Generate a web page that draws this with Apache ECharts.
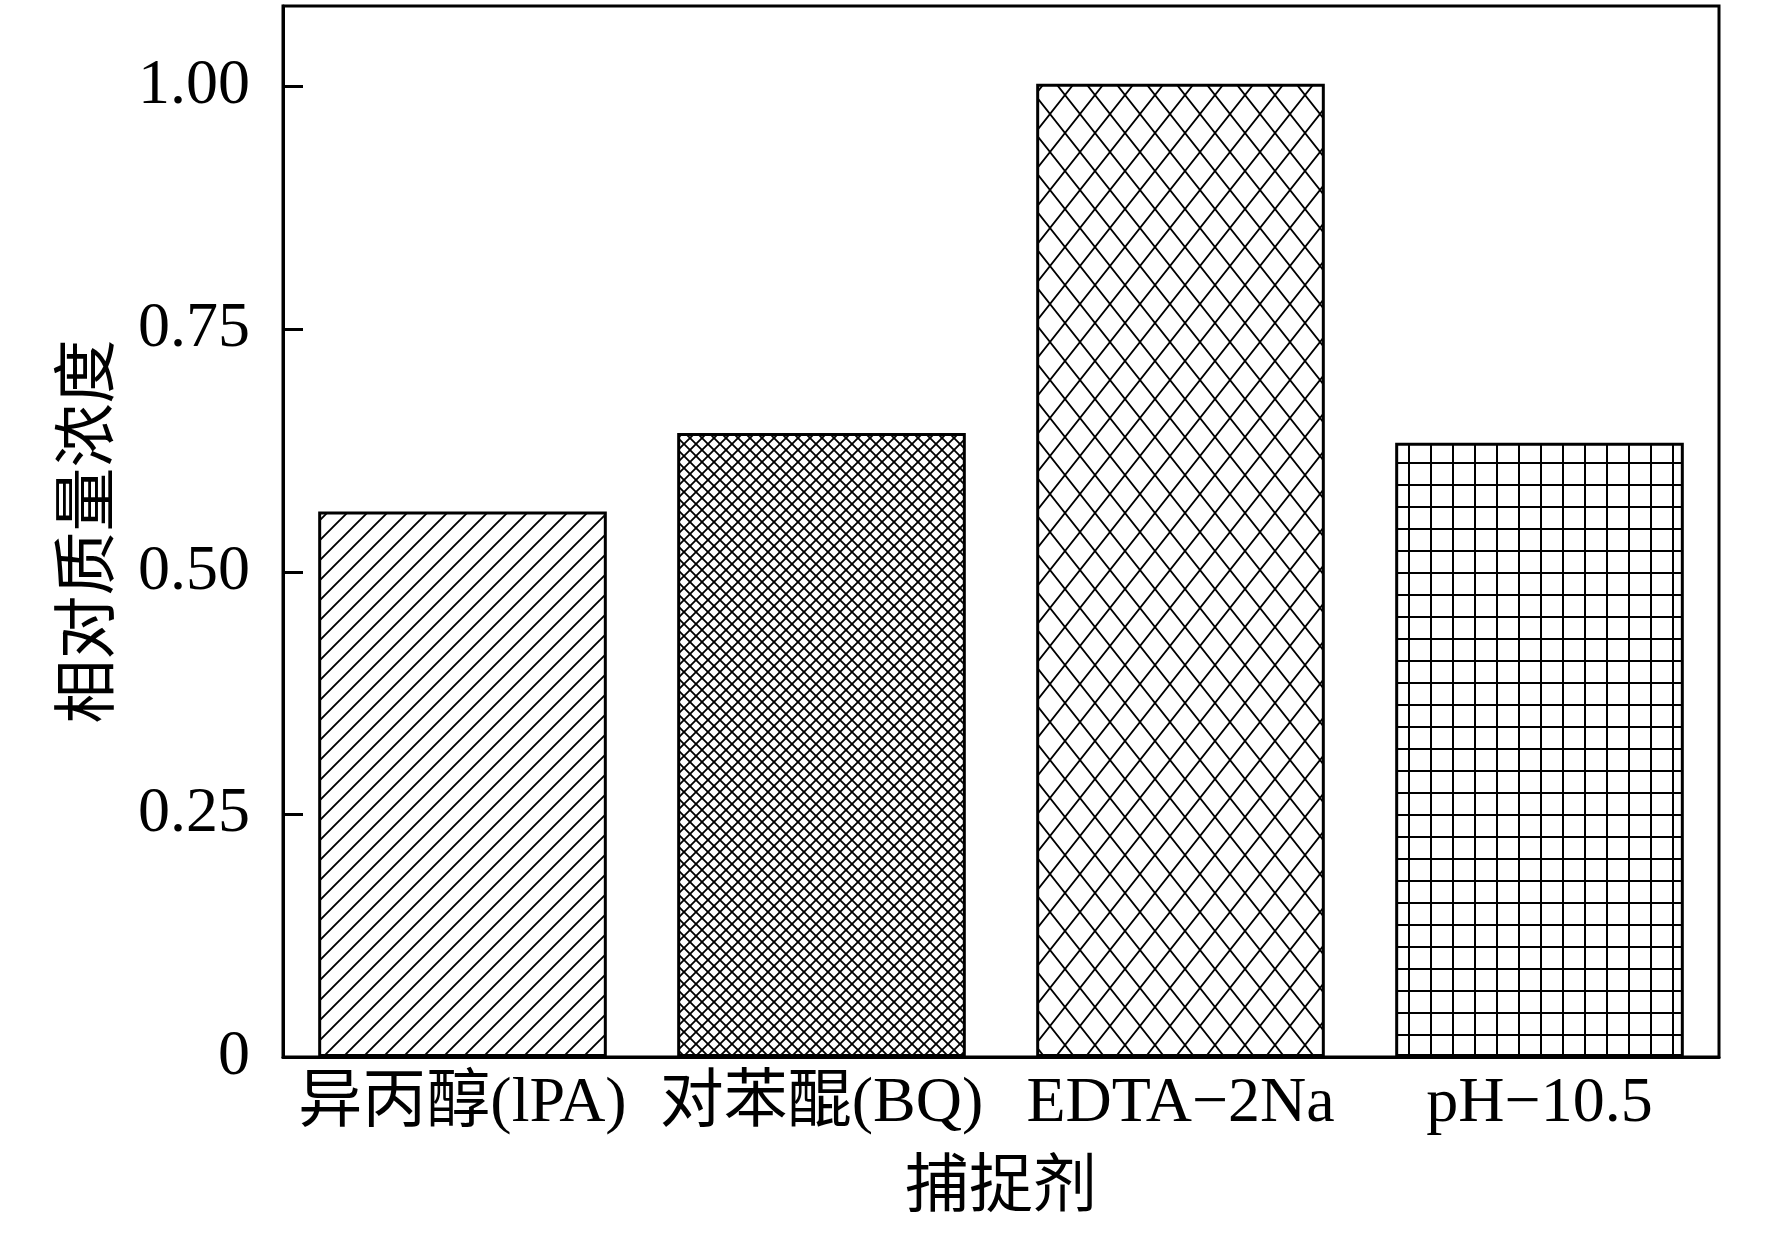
<!DOCTYPE html>
<html>
<head>
<meta charset="utf-8">
<script src="https://cdn.jsdelivr.net/npm/echarts@6/dist/echarts.min.js"></script>
<style>
html,body{margin:0;padding:0;background:#fff;}
#chart{width:1772px;height:1237px;}
</style>
</head>
<body>
<div id="chart"></div>
<script>
// ---- data ----
const categories = ['异丙醇(lPA)', '对苯醌(BQ)', 'EDTA\u22122Na', 'pH\u221210.5'];
const values = [0.562, 0.643, 1.003, 0.633];
const yTicks = [0, 0.25, 0.5, 0.75, 1.0];
const yTickLabels = ['0', '0.25', '0.50', '0.75', '1.00'];
const xName = '捕捉剂';
const yName = '相对质量浓度';

// ---- hatch patterns ----
function tile(w, h, draw) {
  const c = document.createElement('canvas');
  c.width = w; c.height = h;
  const g = c.getContext('2d');
  g.fillStyle = '#fff'; g.fillRect(0, 0, w, h);
  g.strokeStyle = '#000'; g.fillStyle = '#000';
  draw(g, w, h);
  return c;
}
function diag(g, w, h, lw) { // "/" lines
  g.lineWidth = lw;
  g.beginPath();
  g.moveTo(-w, 2 * h); g.lineTo(2 * w, -h);
  g.moveTo(-w, h); g.lineTo(w, -h);
  g.moveTo(0, 2 * h); g.lineTo(2 * w, 0);
  g.stroke();
}
function anti(g, w, h, lw) { // "\" lines
  g.lineWidth = lw;
  g.beginPath();
  g.moveTo(-w, -h); g.lineTo(2 * w, 2 * h);
  g.moveTo(-w, 0); g.lineTo(w, 2 * h);
  g.moveTo(0, -h); g.lineTo(2 * w, h);
  g.stroke();
}
const patSlash = tile(20, 20, (g, w, h) => diag(g, w, h, 1.9));
const patDense = tile(12, 12, (g, w, h) => { diag(g, w, h, 1.8); anti(g, w, h, 1.8); });
const patDiamond = tile(30, 38, (g, w, h) => { diag(g, w, h, 1.8); anti(g, w, h, 1.8); });
const patGrid = tile(22, 22, (g, w, h) => { g.fillRect(0, 0, w, 2); g.fillRect(0, 0, 2, h); });
const patterns = [patSlash, patDense, patDiamond, patGrid];

const font = "'Liberation Serif', 'Noto Sans CJK SC', serif";

const chart = echarts.init(document.getElementById('chart'));
chart.setOption({
  backgroundColor: '#fff',
  animation: false,
  grid: {
    left: 283, right: 53, top: 6, bottom: 180,
    show: true, borderColor: '#000', borderWidth: 3, backgroundColor: 'transparent'
  },
  xAxis: {
    type: 'category',
    data: categories,
    name: xName,
    nameLocation: 'middle',
    nameGap: 100,
    nameTextStyle: { fontSize: 64, fontFamily: font, color: '#000' },
    axisLine: { show: true, lineStyle: { color: '#000', width: 3 } },
    axisTick: { show: false },
    axisLabel: { fontSize: 64, fontFamily: font, color: '#000', margin: 15, interval: 0 },
    splitLine: { show: false }
  },
  yAxis: {
    type: 'value',
    min: 0,
    max: 1.083,
    name: yName,
    nameLocation: 'middle',
    nameRotate: 90,
    nameGap: 160,
    nameTextStyle: { fontSize: 64, fontFamily: font, color: '#000' },
    axisLine: { show: true, lineStyle: { color: '#000', width: 3 } },
    axisTick: { show: true, inside: true, length: 20, customValues: yTicks, lineStyle: { color: '#000', width: 3 } },
    axisLabel: {
      customValues: yTicks,
      fontSize: 64, fontFamily: font, color: '#000', margin: 33,
      formatter: function (v) {
        const i = yTicks.findIndex(t => Math.abs(t - v) < 1e-9);
        return i >= 0 ? yTickLabels[i] : '';
      }
    },
    splitLine: { show: false }
  },
  series: [{
    type: 'bar',
    barCategoryGap: '19.6%',
    data: values.map((v, i) => ({
      value: v,
      itemStyle: {
        color: { image: patterns[i], repeat: 'repeat' },
        borderColor: '#000',
        borderWidth: 3
      }
    }))
  }]
});
</script>
</body>
</html>
